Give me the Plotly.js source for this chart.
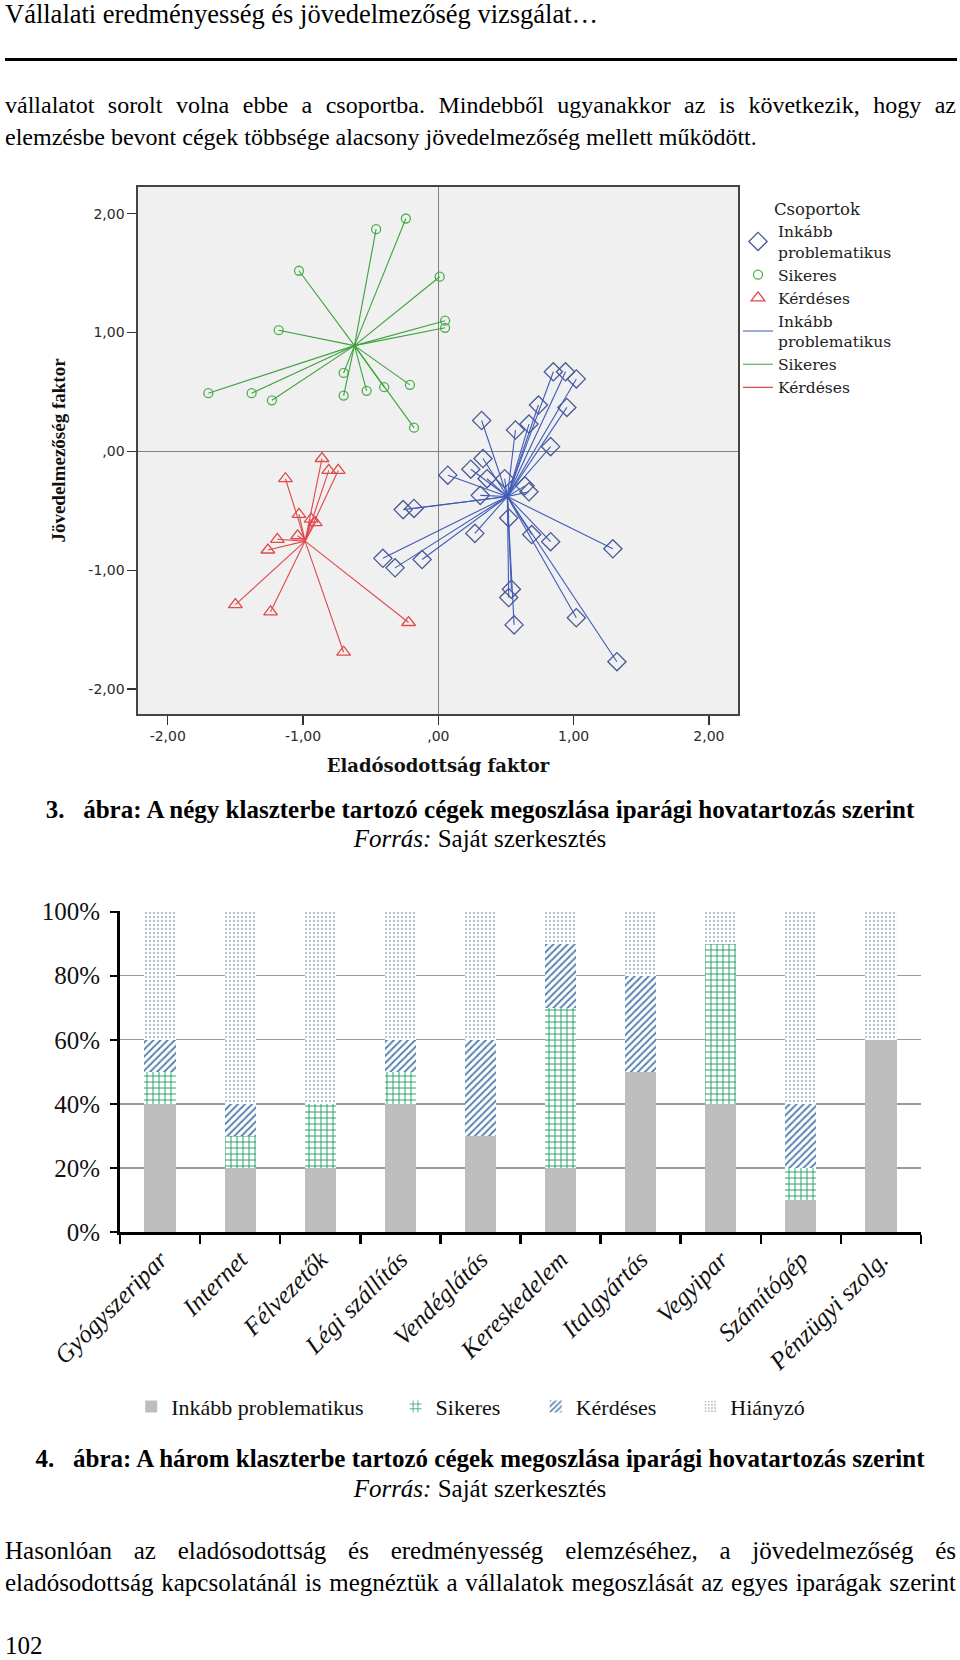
<!DOCTYPE html>
<html><head><meta charset="utf-8">
<script src="https://cdn.plot.ly/plotly-3.0.1.min.js"></script>
<style>
html,body{margin:0;padding:0;background:#fff;}
#page{position:relative;width:960px;height:1660px;overflow:hidden;font-family:"Liberation Serif","Times New Roman",serif;color:#000;}
.t{position:absolute;line-height:1;white-space:pre;}
.j{position:absolute;left:5px;width:951px;line-height:1;text-align:justify;text-align-last:justify;font-size:25px;white-space:normal;}
.c{position:absolute;left:0;width:960px;text-align:center;line-height:1;white-space:pre;}
#rule{position:absolute;left:5px;top:58px;width:952px;height:3px;background:#000;}
#scatter{position:absolute;left:0;top:170px;width:960px;height:610px;}
#bars{position:absolute;left:0;top:880px;width:960px;height:560px;}
</style></head>
<body><div id="page">
<div class="t" style="left:5px;top:1px;font-size:26.5px;">Vállalati eredményesség és jövedelmezőség vizsgálat…</div>
<div id="rule"></div>
<div class="j" style="top:93px;font-size:24px;">vállalatot sorolt volna ebbe a csoportba. Mindebből ugyanakkor az is következik, hogy az</div>
<div class="t" style="left:5px;top:125px;font-size:24px;">elemzésbe bevont cégek többsége alacsony jövedelmezőség mellett működött.</div>
<div id="scatter"></div>
<div class="c" style="top:797px;font-size:25px;font-weight:bold;">3.   ábra: A négy klaszterbe tartozó cégek megoszlása iparági hovatartozás szerint</div>
<div class="c" style="top:826px;font-size:25px;"><i>Forrás:</i> Saját szerkesztés</div>
<div id="bars"></div>
<div class="c" style="top:1446px;font-size:25px;font-weight:bold;">4.   ábra: A három klaszterbe tartozó cégek megoszlása iparági hovatartozás szerint</div>
<div class="c" style="top:1476px;font-size:25px;"><i>Forrás:</i> Saját szerkesztés</div>
<div class="j" style="top:1538px;">Hasonlóan az eladósodottság és eredményesség elemzéséhez, a jövedelmezőség és</div>
<div class="j" style="top:1570px;">eladósodottság kapcsolatánál is megnéztük a vállalatok megoszlását az egyes iparágak szerint</div>
<div class="t" style="left:5px;top:1633px;font-size:25px;">102</div>
</div>
<script>
// ---------- Figure 3: cluster scatter ----------
const groupNames = ['Inkább<br>problematikus', 'Sikeres', 'Kérdéses'];
const legendTitle = 'Csoportok';
const xTitle = 'Eladósodottság faktor';
const yTitle = 'Jövedelmezőség faktor';
const scatterTickVals = [-2, -1, 0, 1, 2];
const scatterTickText = ['-2,00', '-1,00', ',00', '1,00', '2,00'];

const blueX = [0.85, 0.94, 1.02, 0.74, 0.95, 0.32, 0.57, 0.67, 0.83, 0.33, 0.24, 0.07, 0.36, 0.49, 0.31, 0.64, 0.67, -0.26, -0.18, 0.52, 0.27, 0.69, 0.83, 1.29, -0.41, -0.32, -0.12, 0.54, 0.52, 0.56, 1.02, 1.32];
const blueY = [0.67, 0.67, 0.61, 0.39, 0.37, 0.26, 0.18, 0.23, 0.04, -0.06, -0.15, -0.20, -0.23, -0.23, -0.37, -0.29, -0.34, -0.49, -0.48, -0.56, -0.69, -0.70, -0.76, -0.82, -0.90, -0.98, -0.91, -1.16, -1.23, -1.46, -1.40, -1.77];
const blueCenter = [0.51, -0.38];

const greenX = [-0.46, -0.24, -1.03, 0.01, 0.05, 0.05, -1.18, -1.70, -1.38, -1.23, -0.70, -0.70, -0.53, -0.40, -0.21, -0.18];
const greenY = [1.87, 1.96, 1.52, 1.47, 1.10, 1.04, 1.02, 0.49, 0.49, 0.43, 0.66, 0.47, 0.51, 0.54, 0.56, 0.20];
const greenCenter = [-0.62, 0.89];

const redX = [-0.86, -0.81, -0.74, -1.13, -1.03, -0.91, -0.94, -1.04, -1.19, -1.26, -1.50, -1.24, -0.22, -0.70];
const redY = [-0.06, -0.16, -0.16, -0.23, -0.53, -0.60, -0.57, -0.71, -0.74, -0.83, -1.29, -1.35, -1.44, -1.69];
const redCenter = [-0.985, -0.755];

function spokes(xs, ys, c) {
  const lx = [], ly = [];
  xs.forEach((x, i) => { lx.push(c[0], x, null); ly.push(c[1], ys[i], null); });
  return {x: lx, y: ly};
}
const groups = [
  {x: blueX, y: blueY, c: blueCenter, sym: 'diamond-open', size: 14, mcol: '#4a5a92', lcol: '#3f5bb8'},
  {x: greenX, y: greenY, c: greenCenter, sym: 'circle-open', size: 9, mcol: '#4cb04c', lcol: '#3ca23c'},
  {x: redX, y: redY, c: redCenter, sym: 'triangle-up-open', size: 12, mcol: '#de4b4b', lcol: '#e0474c'}
];
const sTraces = [];
groups.forEach((g, i) => sTraces.push({
  type: 'scatter', mode: 'markers', x: g.x, y: g.y, name: groupNames[i],
  marker: {symbol: g.sym, size: g.size, color: g.mcol, line: {width: 1.3, color: g.mcol}},
  hoverinfo: 'skip'
}));
groups.forEach((g, i) => { const s = spokes(g.x, g.y, g.c); sTraces.push({
  type: 'scatter', mode: 'lines', x: s.x, y: s.y, name: groupNames[i],
  line: {color: g.lcol, width: 1.1}, hoverinfo: 'skip'
}); });

const tickFont = {family: 'DejaVu Sans', size: 14, color: '#2a2a2a'};
Plotly.newPlot('scatter', sTraces, {
  width: 960, height: 610,
  margin: {l: 138, r: 222, t: 17, b: 66},
  paper_bgcolor: 'rgba(0,0,0,0)', plot_bgcolor: '#f0f0f0',
  showlegend: true,
  legend: {x: 1.0, xanchor: 'left', y: 0.988, yanchor: 'top', bgcolor: 'rgba(0,0,0,0)',
    font: {family: 'DejaVu Serif', size: 15.5, color: '#222'},
    title: {text: legendTitle, side: 'top center', font: {family: 'DejaVu Serif', size: 16.5, color: '#222'}},
    tracegroupgap: 0},
  xaxis: {range: [-2.22, 2.215], tickvals: scatterTickVals, ticktext: scatterTickText,
    tickfont: tickFont, ticks: 'outside', ticklen: 9, tickwidth: 1.3, tickcolor: '#333',
    showgrid: false, zeroline: true, zerolinecolor: '#808080', zerolinewidth: 1,
    showline: true, mirror: true, linecolor: '#444', linewidth: 1.6,
    title: {text: xTitle, standoff: 16, font: {family: 'DejaVu Serif', size: 18, weight: 'bold', color: '#111'}}},
  yaxis: {range: [-2.21, 2.225], tickvals: scatterTickVals, ticktext: scatterTickText,
    tickfont: tickFont, ticks: 'outside', ticklen: 9, tickwidth: 1.3, tickcolor: '#333',
    showgrid: false, zeroline: true, zerolinecolor: '#808080', zerolinewidth: 1,
    showline: true, mirror: true, linecolor: '#444', linewidth: 1.6,
    title: {text: yTitle, standoff: 18, font: {family: 'Liberation Serif', size: 19, weight: 'bold', color: '#111'}}}
}, {displayModeBar: false, staticPlot: true});

// ---------- Figure 4: stacked percentage bars ----------
const industries = ['Gyógyszeripar', 'Internet', 'Félvezetők', 'Légi szállítás', 'Vendéglátás', 'Kereskedelem', 'Italgyártás', 'Vegyipar', 'Számítógép', 'Pénzügyi szolg.'];
const inkabbProblematikus = [40, 20, 20, 40, 30, 20, 50, 40, 10, 60];
const sikeres = [10, 10, 20, 10, 0, 50, 0, 50, 10, 0];
const kerdeses = [10, 10, 0, 10, 30, 20, 30, 0, 20, 0];
const hianyzo = [40, 60, 60, 40, 40, 10, 20, 10, 60, 40];
const barSeriesNames = ['Inkább problematikus', 'Sikeres', 'Kérdéses', 'Hiányzó'];
const pctTicks = [0, 20, 40, 60, 80, 100];
const pctTickText = ['0%', '20%', '40%', '60%', '80%', '100%'];

const barStyles = [
  {color: '#bdbdbd'},
  {color: '#ffffff', pattern: {shape: '+', fgcolor: '#159a66', bgcolor: '#ffffff', size: 6, solidity: 0.28}},
  {color: '#ffffff', pattern: {shape: '/', fgcolor: '#5a82b0', bgcolor: '#ffffff', size: 5, solidity: 0.4}},
  {color: '#ffffff', pattern: {shape: '.', fgcolor: '#bcc6d2', bgcolor: '#ffffff', size: 4, solidity: 0.32}}
];
const barData = [inkabbProblematikus, sikeres, kerdeses, hianyzo];
const legendKeys = ['legend', 'legend2', 'legend3', 'legend4'];
const bTraces = barData.map((vals, i) => ({
  type: 'bar', x: industries, y: vals, name: barSeriesNames[i], legend: legendKeys[i],
  marker: Object.assign({line: {width: 0}}, barStyles[i]), hoverinfo: 'skip'
}));
const legFont = {family: 'Liberation Serif', size: 22, color: '#111'};
const legendXs = [0.014, 0.344, 0.519, 0.712];
const bLayout = {
  width: 960, height: 560,
  margin: {l: 120, r: 39, t: 30.5, b: 208},
  paper_bgcolor: 'rgba(0,0,0,0)', plot_bgcolor: 'rgba(0,0,0,0)',
  barmode: 'stack', bargap: 0.61,
  xaxis: {type: 'category', tickson: 'boundaries', ticks: 'outside', ticklen: 9, tickwidth: 2.5, tickcolor: '#000',
    showline: true, linecolor: '#000', linewidth: 3, showgrid: false, tickangle: -45,
    tickfont: {family: 'Liberation Serif', size: 25, style: 'italic', color: '#111'}},
  yaxis: {range: [0, 100.2], tickvals: pctTicks, ticktext: pctTickText, ticks: 'outside', ticklen: 7, tickwidth: 2, tickcolor: '#000',
    showline: true, linecolor: '#000', linewidth: 3, showgrid: true, gridcolor: '#9a9a9a', gridwidth: 1.3, zeroline: false,
    ticklabelstandoff: 5, tickfont: {family: 'Liberation Serif', size: 25, color: '#111'}},
  showlegend: true
};
legendKeys.forEach((k, i) => {
  bLayout[k] = {orientation: 'h', x: legendXs[i], xanchor: 'left', y: -0.544, yanchor: 'middle',
    bgcolor: 'rgba(0,0,0,0)', font: legFont};
});
Plotly.newPlot('bars', bTraces, bLayout, {displayModeBar: false, staticPlot: true});
</script>
</body></html>
